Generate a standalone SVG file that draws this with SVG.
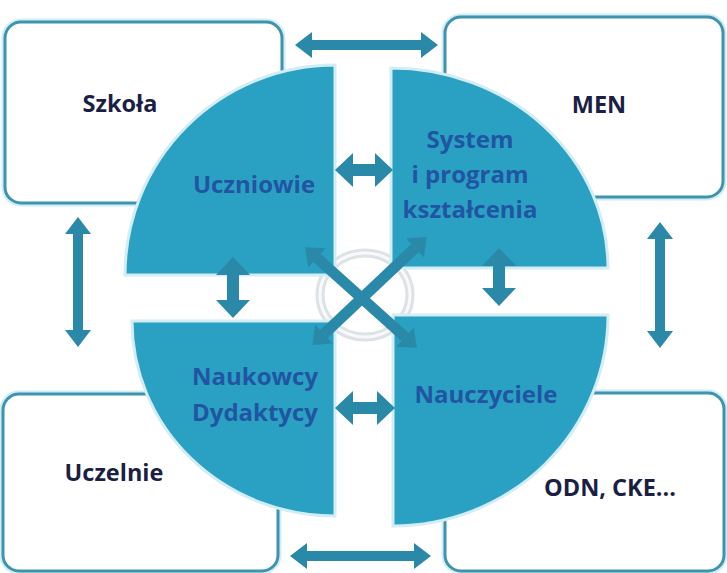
<svg xmlns="http://www.w3.org/2000/svg" width="727" height="573" viewBox="0 0 727 573">
  <style>
    .box-glow { fill: none; stroke: #cfeef5; stroke-width: 7; }
    .box { fill: #ffffff; stroke: #3f93ad; stroke-width: 3; }
    .quad { fill: #2aa1c2; stroke: #d2edf4; stroke-width: 3; }
    .btxt { font-family: "Open Sans", "Liberation Sans", sans-serif; font-weight: bold; font-size: 23.5px; fill: #1c1f45; text-anchor: middle; }
    .qtxt { font-family: "Open Sans", "Liberation Sans", sans-serif; font-weight: bold; font-size: 24px; fill: #2155a3; text-anchor: middle; }
    .arr-o { stroke: #2a88a8; stroke-width: 10; fill: none; }
    .arr-i { stroke: #2a88a8; stroke-width: 12; fill: none; }
    .arr-d { stroke: #2a88a8; stroke-width: 11; fill: none; }
  </style>
  <defs>
    <marker id="mo" markerUnits="userSpaceOnUse" markerWidth="18" markerHeight="28" refX="0" refY="14" orient="auto-start-reverse">
      <path d="M0,1 L17,14 L0,27 Z" fill="#2a88a8"/>
    </marker>
    <marker id="mi" markerUnits="userSpaceOnUse" markerWidth="19" markerHeight="36" refX="0" refY="18" orient="auto-start-reverse">
      <path d="M0,1 L18,18 L0,35 Z" fill="#2a88a8"/>
    </marker>
    <marker id="md" markerUnits="userSpaceOnUse" markerWidth="17" markerHeight="28" refX="0" refY="14" orient="auto-start-reverse">
      <path d="M0,1 L16,14 L0,27 Z" fill="#2a88a8"/>
    </marker>
  </defs>
  <rect width="727" height="573" fill="#ffffff"/>

  <g id="box-szkola">
    <rect class="box-glow" x="5" y="22" width="277" height="181" rx="16"/>
    <rect class="box" x="5" y="22" width="277" height="181" rx="16"/>
    <text class="btxt" x="120" y="112">Szkoła</text>
  </g>
  <g id="box-men">
    <rect class="box-glow" x="445" y="17" width="278" height="180" rx="16"/>
    <rect class="box" x="445" y="17" width="278" height="180" rx="16"/>
    <text class="btxt" x="599" y="113">MEN</text>
  </g>
  <g id="box-uczelnie">
    <rect class="box-glow" x="3" y="394" width="275" height="177" rx="16"/>
    <rect class="box" x="3" y="394" width="275" height="177" rx="16"/>
    <text class="btxt" x="114" y="481">Uczelnie</text>
  </g>
  <g id="box-odn">
    <rect class="box-glow" x="445" y="393" width="279" height="178" rx="16"/>
    <rect class="box" x="445" y="393" width="279" height="178" rx="16"/>
    <text class="btxt" x="610" y="496">ODN, CKE...</text>
  </g>

  <g id="ring">
    <ellipse cx="365" cy="295" rx="45" ry="42" fill="none" stroke="#dde2e5" stroke-width="9"/>
    <ellipse cx="365" cy="295" rx="45" ry="42" fill="none" stroke="#f7f9fa" stroke-width="3"/>
  </g>

  <g id="q-uczniowie">
    <path class="quad" d="M335,275 L125,275 A210,210 0 0 1 335,65 Z"/>
    <text class="qtxt" x="254" y="193">Uczniowie</text>
  </g>
  <g id="q-system">
    <path class="quad" d="M391,268 L391,68 A217,200 0 0 1 608,268 Z"/>
    <text class="qtxt" x="470" y="148">System</text>
    <text class="qtxt" x="470" y="183">i program</text>
    <text class="qtxt" x="470" y="218">kształcenia</text>
  </g>
  <g id="q-naukowcy">
    <path class="quad" d="M335,321 L132,321 A203,195 0 0 0 335,516 Z"/>
    <text class="qtxt" x="255" y="385">Naukowcy</text>
    <text class="qtxt" x="255" y="421">Dydaktycy</text>
  </g>
  <g id="q-nauczyciele">
    <path class="quad" d="M393,315 L608,315 A215,211 0 0 1 393,526 Z"/>
    <text class="qtxt" x="486" y="403">Nauczyciele</text>
  </g>

  <g id="connectors">
    <line class="arr-o" x1="312" y1="45" x2="421" y2="45" marker-start="url(#mo)" marker-end="url(#mo)"/>
    <line class="arr-o" x1="307" y1="556" x2="414" y2="556" marker-start="url(#mo)" marker-end="url(#mo)"/>
    <line class="arr-o" x1="78" y1="234" x2="78" y2="330" marker-start="url(#mo)" marker-end="url(#mo)"/>
    <line class="arr-o" x1="660" y1="239" x2="660" y2="331" marker-start="url(#mo)" marker-end="url(#mo)"/>
    <line class="arr-i" x1="353" y1="170" x2="375" y2="170" marker-start="url(#mi)" marker-end="url(#mi)"/>
    <line class="arr-i" x1="353" y1="408" x2="377" y2="408" marker-start="url(#mi)" marker-end="url(#mi)"/>
    <line class="arr-i" x1="233" y1="275" x2="233" y2="300" marker-start="url(#mi)" marker-end="url(#mi)"/>
    <line class="arr-i" x1="499" y1="266" x2="499" y2="288" marker-start="url(#mi)" marker-end="url(#mi)"/>
    <line class="arr-d" x1="317" y1="258" x2="405" y2="337" marker-start="url(#md)" marker-end="url(#md)"/>
    <line class="arr-d" x1="415" y1="248" x2="324" y2="334" marker-start="url(#md)" marker-end="url(#md)"/>
  </g>
</svg>
